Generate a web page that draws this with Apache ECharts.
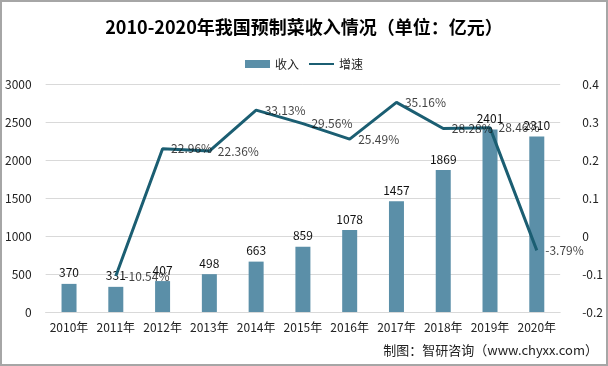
<!DOCTYPE html>
<html><head><meta charset="utf-8">
<script src="https://cdn.jsdelivr.net/npm/echarts@6/dist/echarts.min.js"></script>
<style>html,body{margin:0;padding:0;background:#fff}#c{width:608px;height:366px;box-sizing:border-box;border:2px solid #a6a6a6}</style>
</head><body><div id="c"></div>
<script>
const categories = ['2010年','2011年','2012年','2013年','2014年','2015年','2016年','2017年','2018年','2019年','2020年'];
const revenue = [370, 331, 407, 498, 663, 859, 1078, 1457, 1869, 2401, 2310];
const growth = [null, -0.1054, 0.2296, 0.2236, 0.3313, 0.2956, 0.2549, 0.3516, 0.2828, 0.2846, -0.0379];
const leftTicks = [0, 3000, 500];
const rightTicks = [-0.2, 0.4, 0.1];

const font = '"Noto Sans CJK SC", "Noto Sans", sans-serif';
const chart = echarts.init(document.getElementById('c'), null, {renderer:'canvas'});
chart.setOption({
  animation:false,
  textStyle:{fontFamily:font},
  title:{text:'2010-2020年我国预制菜收入情况（单位：亿元）', left:'center', top:11,
    textStyle:{fontSize:18, fontWeight:'bold', color:'#000', fontFamily:font}},
  legend:{top:51, left:'center', itemGap:9, itemWidth:25, itemHeight:8,
    textStyle:{fontSize:12, color:'#222'},
    data:[{name:'收入', icon:'rect'}, {name:'增速', itemStyle:{opacity:0}}]},
  grid:{left:43, right:39, top:82, bottom:52},
  graphic:[{type:'text', right:8, top:342,
    style:{text:'制图：智研咨询（www.chyxx.com）', font:'13px "Noto Sans CJK SC", sans-serif', fill:'#222'}}],
  xAxis:{type:'category', data:categories,
    axisLine:{lineStyle:{color:'#d9d9d9'}}, axisTick:{show:false},
    axisLabel:{color:'#222', fontSize:12, margin:9, interval:0}},
  yAxis:[
    {type:'value', min:leftTicks[0], max:leftTicks[1], interval:leftTicks[2],
     axisLabel:{color:'#222', fontSize:12, margin:14, align:'right', formatter:v=>String(v)},
     splitLine:{lineStyle:{color:'#d9d9d9'}}, axisLine:{show:false}, axisTick:{show:false}},
    {type:'value', min:rightTicks[0], max:rightTicks[1], interval:rightTicks[2],
     axisLabel:{color:'#222', fontSize:12, margin:22, formatter:v=>String(Math.round(v*10)/10)},
     splitLine:{show:false}, axisLine:{show:false}, axisTick:{show:false}}
  ],
  series:[
    {name:'收入', type:'bar', data:revenue, barWidth:15, itemStyle:{color:'#5b8fa8'},
     label:{show:true, position:'top', color:'#111', fontSize:12, distance:5}},
    {name:'增速', type:'line', yAxisIndex:1, data:growth, symbol:'none', connectNulls:false,
     lineStyle:{color:'#1b5e72', width:3}, itemStyle:{color:'#1b5e72'}},
    {name:'增速标签', type:'scatter', yAxisIndex:1, data:growth, symbolSize:1,
     itemStyle:{color:'rgba(0,0,0,0)'}, z:5,
     label:{show:true, position:'right', color:'#111', fontSize:12, distance:8,
       formatter:p=>(p.value*100).toFixed(2)+'%'}}
  ]
});
</script></body></html>
